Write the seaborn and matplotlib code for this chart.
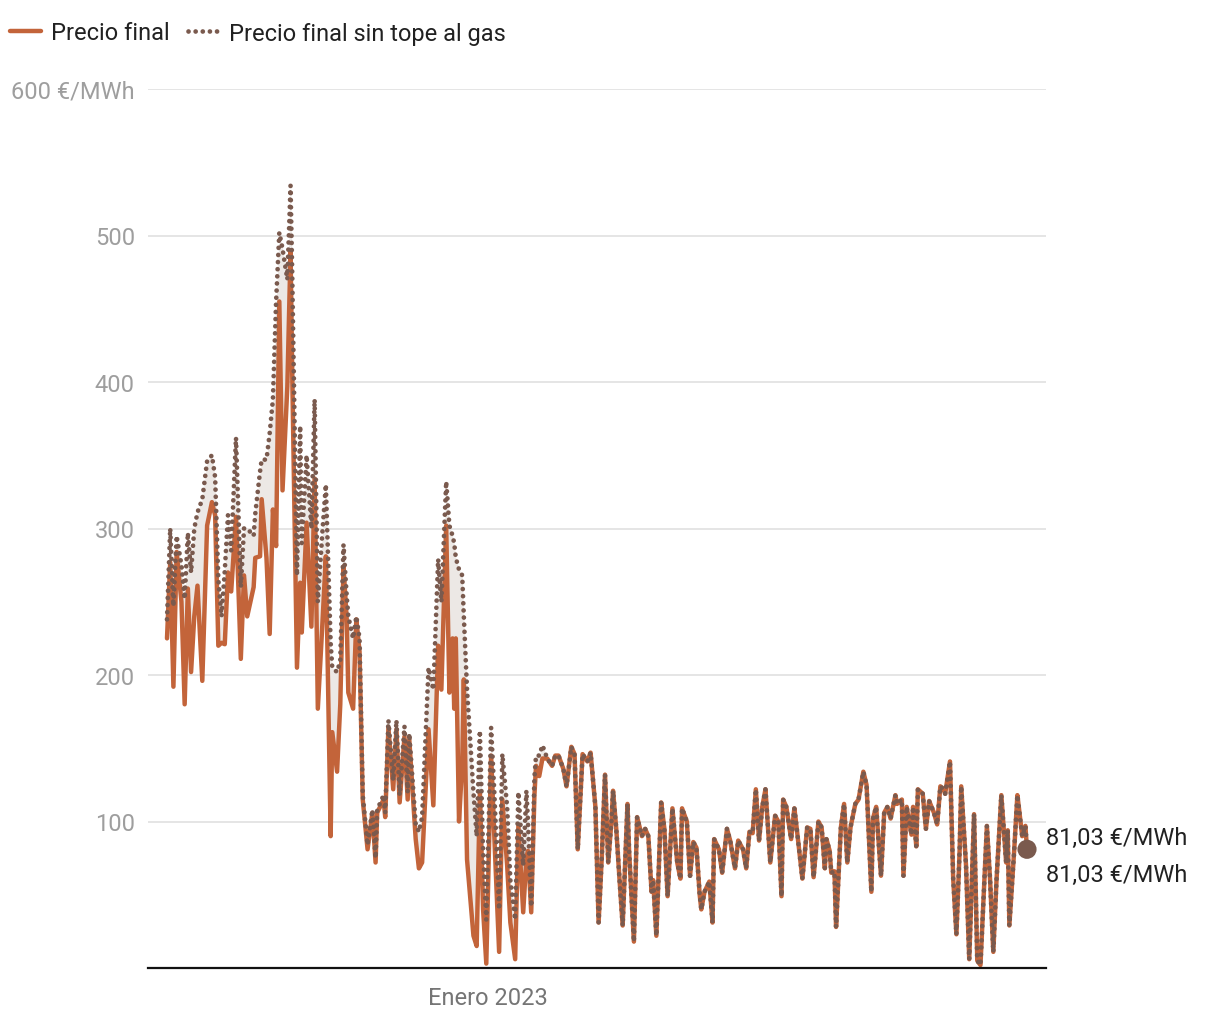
import numpy as np
import pandas as pd
import matplotlib
matplotlib.use("Agg")
import matplotlib.pyplot as plt
from matplotlib.lines import Line2D
import seaborn as sns

# ---------------- data ----------------
fecha_inicio = "2022-06-15"

# first period: both series differ (day offset from fecha_inicio)
dias_tope = [0, 2, 4, 6, 9, 11, 13, 15, 17, 19, 22, 25, 28, 30, 32, 34, 36, 38, 40, 43,
             46, 48, 50, 54, 55, 58, 59, 62, 64, 66, 68, 70, 72, 75, 77, 78, 81, 83, 84, 87,
             90, 92, 94, 97, 99, 102, 103, 106, 108, 110, 112, 113, 116, 118, 120,
             122, 125, 128, 130, 131, 135, 136, 138, 141, 143, 145, 148, 150, 151, 155, 157, 159,
             163, 166, 169, 171, 174, 176, 178, 179, 180, 182, 184, 185, 187, 191, 193, 195, 197, 199,
             202, 204, 207, 209, 212, 214, 217, 219, 222, 224, 225, 227, 229, 230, 232, 234]
precio_final_tope = [225, 277, 192, 284, 250, 180, 259, 202, 240, 261, 196, 302, 318, 309, 220, 222, 221, 270, 257, 308,
                     211, 268, 240, 260, 280, 281, 320, 280, 228, 313, 288, 455, 326, 397, 489, 409, 205, 263, 229, 304,
                     233, 334, 177, 238, 281, 90, 161, 134, 180, 274, 238, 188, 177, 238, 216,
                     115, 81, 106, 72, 106, 115, 103, 164, 122, 163, 113, 158, 115, 156, 88, 68, 72,
                     163, 111, 220, 190, 302, 188, 225, 177, 225, 100, 140, 197, 74, 22, 15, 120, 40, 3,
                     145, 90, 11, 115, 70, 31, 6, 97, 38, 75, 80, 38, 118, 138, 131, 143]
precio_sin_tope = [238, 300, 247, 295, 275, 252, 297, 270, 300, 311, 320, 346, 350, 335, 265, 240, 271, 309, 285, 362,
                   260, 300, 300, 295, 310, 339, 347, 347, 365, 388, 455, 502, 491, 470, 534, 477, 268, 370, 290, 350,
                   300, 388, 250, 300, 330, 222, 205, 202, 210, 289, 254, 240, 225, 240, 225,
                   118, 84, 108, 75, 108, 118, 106, 169, 128, 169, 118, 165, 120, 160, 98, 93, 103,
                   205, 190, 279, 250, 332, 302, 295, 290, 280, 272, 268, 240, 190, 120, 90, 162, 80, 33,
                   164, 120, 40, 146, 110, 60, 33, 120, 70, 121, 100, 42, 130, 145, 145, 152]

# second period: both series coincide
dias_resto = [237, 240, 242, 244, 247, 249, 252, 254, 256, 259, 262, 264, 267, 269, 271, 273, 275, 277, 278, 280,
              282, 284, 287, 288, 291, 293, 296, 298, 300, 302, 303, 305, 308, 310, 312, 315, 318, 320, 321, 324,
              326, 328, 330, 332, 333, 335, 338, 340, 341, 344, 346, 349, 351, 354, 356, 359, 361, 363, 365, 367,
              369, 371, 373, 376, 379, 381, 383, 384, 386, 389, 391, 392, 396, 399, 401, 403, 406, 408, 410, 411,
              413, 414, 416, 417, 420, 422, 424, 426, 429, 431, 434, 436, 439, 440, 442, 445, 447, 449, 451, 454,
              455, 458, 459, 461, 464, 465, 467, 468, 471, 473, 475, 478, 480, 482, 484, 485, 487, 488, 490, 492,
              494, 495, 498, 500, 503, 505, 507, 511, 513, 515, 517, 520, 523, 524, 525, 528, 530, 531, 533, 535,
              536]
precio_resto = [143, 138, 145, 145, 136, 124, 151, 146, 81, 146, 141, 147, 110, 31, 76, 132, 72, 100, 121, 95,
                61, 29, 112, 80, 18, 103, 90, 95, 90, 52, 60, 22, 113, 95, 49, 109, 72, 61, 109, 100,
                63, 86, 82, 50, 40, 52, 59, 31, 88, 81, 65, 95, 87, 68, 87, 81, 68, 93, 92, 122,
                87, 110, 122, 72, 104, 100, 49, 115, 110, 88, 109, 100, 61, 96, 95, 62, 100, 96, 68, 88,
                80, 65, 66, 28, 96, 112, 72, 96, 112, 115, 134, 125, 52, 102, 110, 63, 106, 110, 102, 118,
                112, 115, 63, 110, 91, 110, 83, 122, 119, 95, 114, 106, 98, 124, 122, 119, 134, 141, 61, 23,
                80, 124, 70, 6, 105, 5, 2, 97, 60, 11, 60, 118, 72, 94, 29, 80, 118, 109, 90, 97,
                81.03]

etiquetas_y = ["100", "200", "300", "400", "500", "600 €/MWh"]
valores_y = [100, 200, 300, 400, 500, 600]
etiqueta_x = "Enero 2023"
fecha_etiqueta_x = "2023-01-01"
serie_nombres = ["Precio final", "Precio final sin tope al gas"]
etiqueta_final = "81,03 €/MWh"

# ---------------- build frame ----------------
base = pd.Timestamp(fecha_inicio)
dias = dias_tope + dias_resto
df = pd.DataFrame({
    "fecha": base + pd.to_timedelta(dias, unit="D"),
    "final": precio_final_tope + precio_resto,
    "sin_tope": precio_sin_tope + precio_resto,
})

# ---------------- style ----------------
sns.set_theme(style="white")
plt.rcParams["font.family"] = ["Roboto", "DejaVu Sans"]

NARANJA = "#c3643a"
MARRON = "#7a5a4e"
RELLENO = "#ece8e5"
GRIS_TXT = "#9e9e9e"
PUNTEADO = (0, (0.01, 1.5))

W, H = 1220, 1020
fig = plt.figure(figsize=(W / 100, H / 100), dpi=100)
L, R, T, B = 148, 1046, 90, 969
ax = fig.add_axes([L / W, 1 - B / H, (R - L) / W, (B - T) / H])

ax.fill_between(df["fecha"], df["final"], df["sin_tope"],
                where=df["sin_tope"] >= df["final"], color=RELLENO, lw=0, zorder=1)
sns.lineplot(data=df, x="fecha", y="final", ax=ax, color=NARANJA, lw=3.2,
             solid_joinstyle="round", zorder=3)
sns.lineplot(data=df, x="fecha", y="sin_tope", ax=ax, color=MARRON, lw=3.4,
             linestyle=PUNTEADO, dash_capstyle="round", zorder=4)

# end dot
ultimo = df.iloc[-1]
ax.scatter([ultimo["fecha"]], [ultimo["sin_tope"]], s=190, color=MARRON, zorder=5,
           edgecolor="none", clip_on=False)
ax.annotate(etiqueta_final, xy=(ultimo["fecha"], ultimo["final"]), xytext=(14, 8.5),
            textcoords="offset points", ha="left", va="center", fontsize=17, color="#212121",
            annotation_clip=False)
ax.annotate(etiqueta_final, xy=(ultimo["fecha"], ultimo["final"]), xytext=(14, -18),
            textcoords="offset points", ha="left", va="center", fontsize=17, color="#212121",
            annotation_clip=False)

# axes
px_day = (1027 - 167) / 536
ax.set_xlim(base - pd.Timedelta(days=(167 - L) / px_day),
            base + pd.Timedelta(days=(R - 167) / px_day))
ax.set_ylim(0, 600)
ax.set_yticks(valores_y)
ax.set_yticklabels(etiquetas_y)
ax.set_xticks([pd.Timestamp(fecha_etiqueta_x)])
ax.set_xticklabels([etiqueta_x])
ax.tick_params(axis="y", length=0, pad=9.5, labelsize=17, labelcolor=GRIS_TXT)
ax.tick_params(axis="x", length=0, pad=13, labelsize=17, labelcolor="#757575")
ax.set_xlabel("")
ax.set_ylabel("")
ax.yaxis.grid(True, color="#e3e3e3", lw=1.3)
ax.set_axisbelow(True)
for s in ["left", "right", "top"]:
    ax.spines[s].set_visible(False)
ax.spines["bottom"].set_color("#111111")
ax.spines["bottom"].set_linewidth(1.6)
ax.spines["bottom"].set_zorder(6)

# legend
handles = [Line2D([], [], color=NARANJA, lw=3.2),
           Line2D([], [], color=MARRON, lw=3.4, linestyle=PUNTEADO, dash_capstyle="round")]
fig.legend(handles, serie_nombres, loc="center left", bbox_to_anchor=(10 / W, 1 - 34 / H),
           ncol=2, frameon=False, fontsize=17, handlelength=1.3, handletextpad=0.42,
           columnspacing=0.8, borderpad=0, borderaxespad=0, labelcolor="#212121")

fig.savefig("out.png", dpi=100)
